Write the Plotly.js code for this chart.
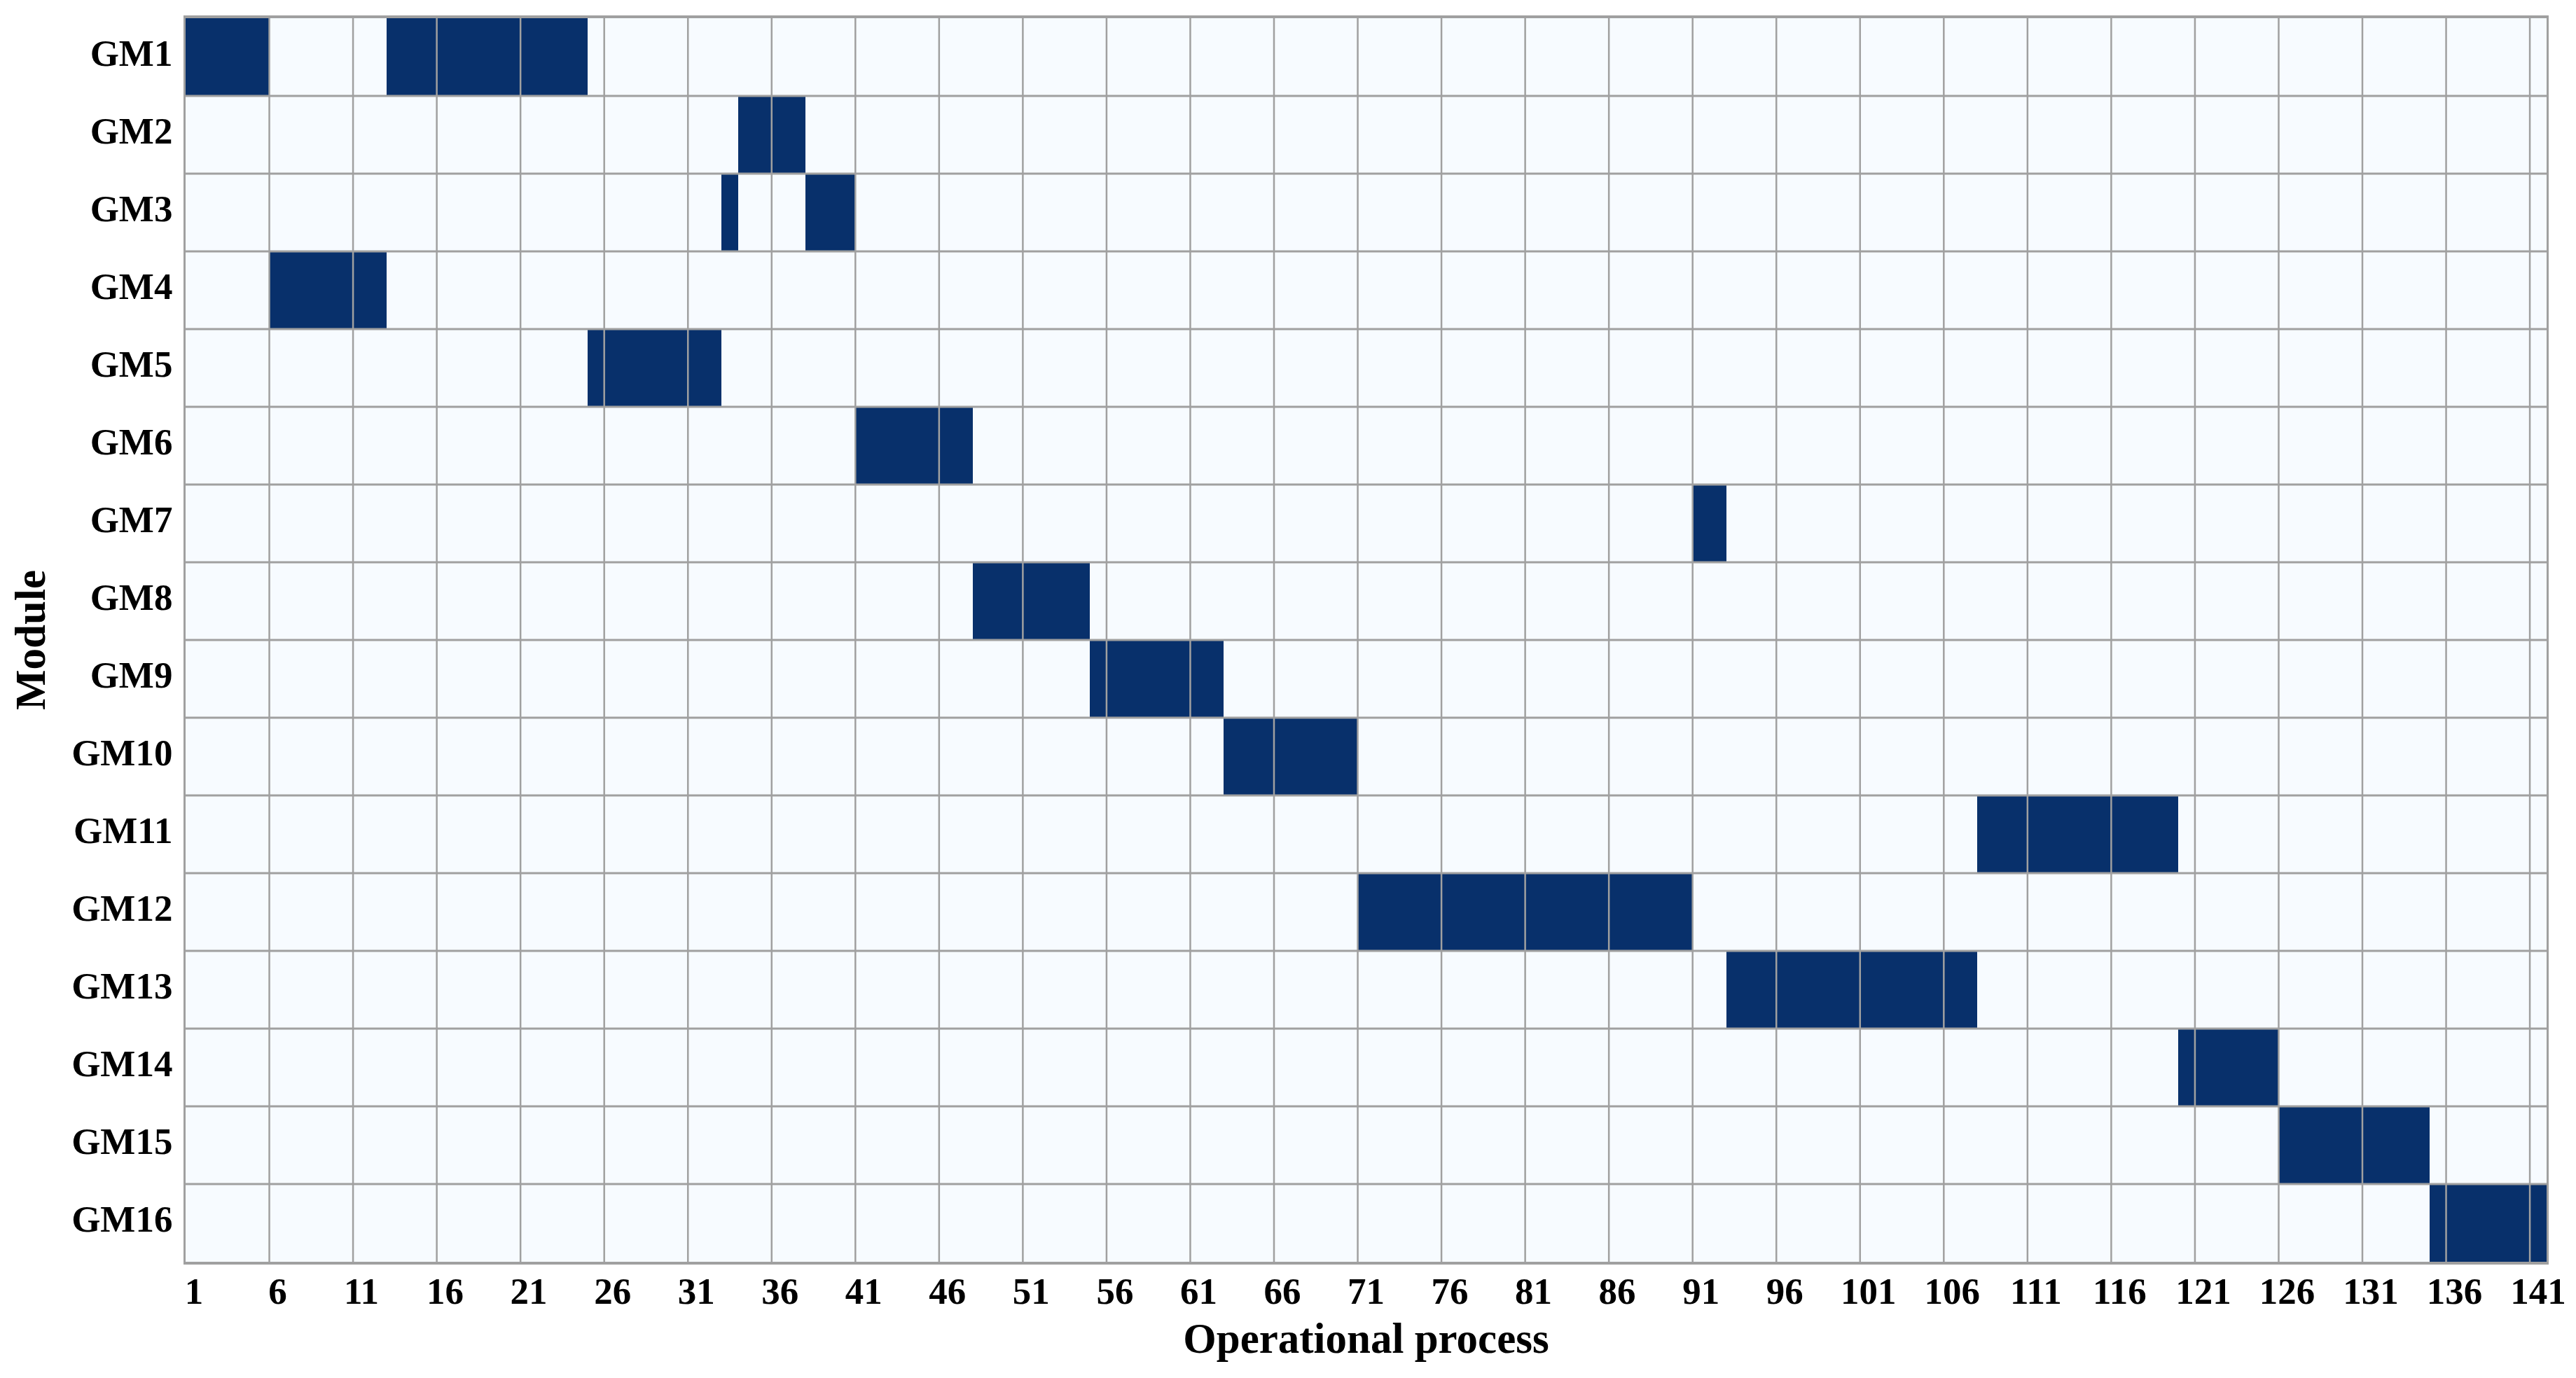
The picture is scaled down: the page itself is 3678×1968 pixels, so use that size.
<!DOCTYPE html>
<html>
<head>
<meta charset="utf-8">
<script src="https://cdn.plot.ly/plotly-3.0.1.min.js"></script>
<style>
  html, body { margin: 0; padding: 0; background: #ffffff; }
  #chart { width: 3678px; height: 1968px; }
</style>
</head>
<body>
<div id="chart"></div>
<script>
// ---- Data ----
const modules = ['GM1','GM2','GM3','GM4','GM5','GM6','GM7','GM8','GM9','GM10','GM11','GM12','GM13','GM14','GM15','GM16'];
const processCount = 141;
// Active operational-process ranges for each module (inclusive start / end)
const blockStarts = [[1, 13], [34], [33, 38], [6], [25], [41], [91], [48], [55], [63], [108], [71], [93], [120], [126], [135]];
const blockEnds   = [[5, 24], [37], [33, 40], [12], [32], [47], [92], [54], [62], [70], [119], [90], [107], [125], [134], [141]];
const xTickVals = [1,6,11,16,21,26,31,36,41,46,51,56,61,66,71,76,81,86,91,96,101,106,111,116,121,126,131,136,141];

// ---- Build matrix ----
const xs = [];
for (let i = 1; i <= processCount; i++) xs.push(i);
const ys = modules.map((m, i) => i + 1);
const z = modules.map((m, r) => xs.map(x => {
  for (let k = 0; k < blockStarts[r].length; k++) {
    if (x >= blockStarts[r][k] && x <= blockEnds[r][k]) return 1;
  }
  return 0;
}));

const trace = {
  type: 'heatmap',
  x: xs,
  y: ys,
  z: z,
  zmin: 0,
  zmax: 1,
  colorscale: [[0, '#f7fbff'], [1, '#08306b']],
  showscale: false,
  hoverongaps: false
};

// grid lines drawn above the cells (cell borders every 5 processes, every module)
const gridColor = '#a0a0a0';
const shapes = [];
xTickVals.slice(1).forEach(v => {
  shapes.push({type: 'line', xref: 'x', yref: 'paper', x0: v - 0.5, x1: v - 0.5, y0: 0, y1: 1,
    line: {color: gridColor, width: 2.5}, layer: 'above'});
});
ys.slice(1).forEach(v => {
  shapes.push({type: 'line', xref: 'paper', yref: 'y', x0: 0, x1: 1, y0: v - 0.5, y1: v - 0.5,
    line: {color: gridColor, width: 3}, layer: 'above'});
});

const fontFam = '"Liberation Serif", "Times New Roman", Times, serif';

const layout = {
  width: 3678,
  height: 1968,
  margin: {l: 265, r: 42, t: 26, b: 166, pad: 0},
  paper_bgcolor: '#ffffff',
  plot_bgcolor: '#f7fbff',
  font: {family: fontFam, color: '#000000'},
  xaxis: {
    range: [0.5, processCount + 0.5],
    tickmode: 'array',
    tickvals: xTickVals,
    ticktext: xTickVals.map(String),
    ticks: '',
    showgrid: false,
    zeroline: false,
    showline: true,
    mirror: true,
    linecolor: '#a0a0a0',
    linewidth: 4,
    tickfont: {family: fontFam, size: 53, weight: 'bold', color: '#000000'},
    ticklabelstandoff: -8,
    title: {text: 'Operational process', font: {family: fontFam, size: 61, weight: 'bold', color: '#000000'}, standoff: 19}
  },
  yaxis: {
    range: [modules.length + 0.5, 0.5],
    tickmode: 'array',
    tickvals: ys,
    ticktext: modules,
    ticks: '',
    showgrid: false,
    zeroline: false,
    showline: true,
    mirror: true,
    linecolor: '#a0a0a0',
    linewidth: 3,
    tickfont: {family: fontFam, size: 53, weight: 'bold', color: '#000000'},
    ticklabelstandoff: 5,
    ticklabelshift: 6,
    title: {text: 'Module', font: {family: fontFam, size: 61, weight: 'bold', color: '#000000'}, standoff: 18}
  },
  shapes: shapes,
  showlegend: false
};

Plotly.newPlot('chart', [trace], layout, {displayModeBar: false, staticPlot: true});
</script>
</body>
</html>
